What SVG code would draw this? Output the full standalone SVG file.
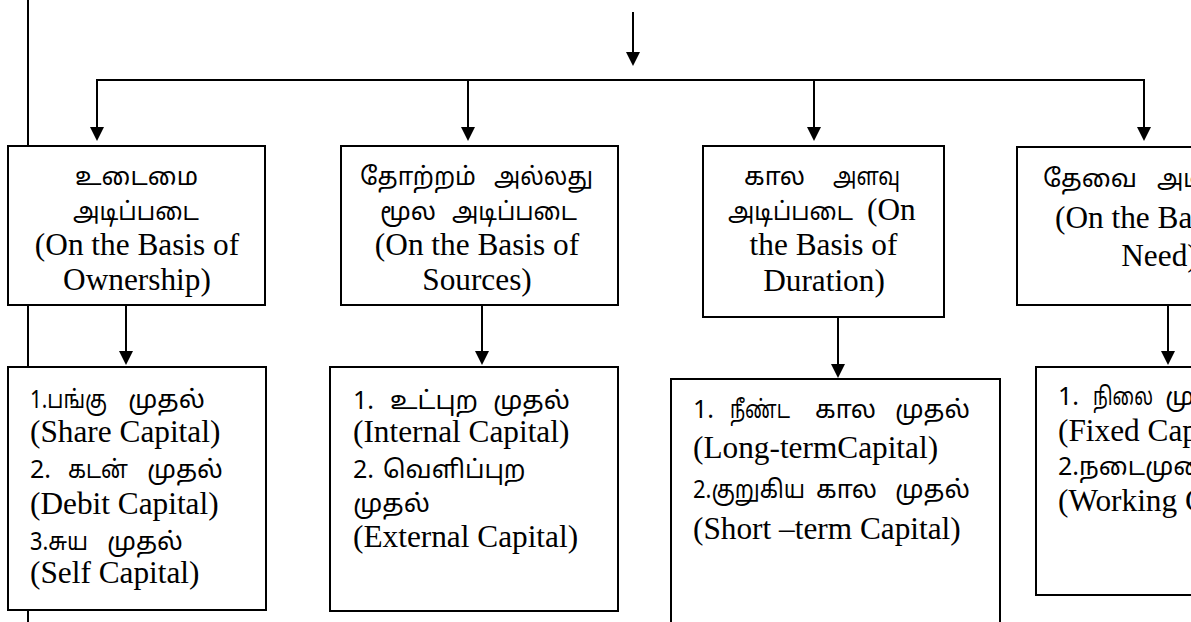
<svg xmlns="http://www.w3.org/2000/svg" width="1191" height="622" viewBox="0 0 1191 622">
<style>
.box{fill:#fff;stroke:#000;stroke-width:2}
.ln{stroke:#000;stroke-width:2;fill:none}
.en{font-family:"Liberation Serif","Times New Roman",serif;font-size:31.3px;fill:#000}
.ta{font-family:"Noto Sans Tamil","Noto Serif Tamil","Lohit Tamil","Latha","Noto Sans",sans-serif;font-size:25px;fill:#000}
.m{text-anchor:middle}
</style>
<defs>
<marker id="ah" markerUnits="userSpaceOnUse" markerWidth="14" markerHeight="14" refX="10" refY="7" orient="auto">
<path d="M0,0 L14,7 L0,14 z" fill="#000"/>
</marker>
</defs>
<g id="connectors">
<line class="ln" x1="28" y1="0" x2="28" y2="622"/>
<line class="ln" x1="633" y1="12" x2="633" y2="62" marker-end="url(#ah)"/>
<polyline class="ln" points="97,80 1144,80"/>
<line class="ln" x1="97" y1="79" x2="97" y2="137" marker-end="url(#ah)"/>
<line class="ln" x1="468" y1="80" x2="468" y2="137" marker-end="url(#ah)"/>
<line class="ln" x1="814" y1="80" x2="814" y2="137" marker-end="url(#ah)"/>
<line class="ln" x1="1144" y1="79" x2="1144" y2="137" marker-end="url(#ah)"/>
<line class="ln" x1="126" y1="305" x2="126" y2="361" marker-end="url(#ah)"/>
<line class="ln" x1="482" y1="305" x2="482" y2="361" marker-end="url(#ah)"/>
<line class="ln" x1="838" y1="317" x2="838" y2="374" marker-end="url(#ah)"/>
<line class="ln" x1="1168" y1="305" x2="1168" y2="361" marker-end="url(#ah)"/>
</g>
<g id="ownership">
<rect class="box" x="8" y="146" width="257" height="159"/>
<text class="ta" x="75" y="185" textLength="123" lengthAdjust="spacingAndGlyphs">உடைமை</text>
<text class="ta" x="73" y="220" textLength="126" lengthAdjust="spacingAndGlyphs">அடிப்படை</text>
<text class="en m" x="137" y="255">(On the Basis of</text>
<text class="en m" x="137" y="290">Ownership)</text>
</g>
<g id="sources">
<rect class="box" x="341" y="146" width="277" height="159"/>
<text class="ta" x="360" y="185" textLength="116" lengthAdjust="spacingAndGlyphs">தோற்றம்</text>
<text class="ta" x="494" y="185" textLength="99" lengthAdjust="spacingAndGlyphs">அல்லது</text>
<text class="ta" x="380" y="220">மூல</text>
<text class="ta" x="452" y="220" textLength="125" lengthAdjust="spacingAndGlyphs">அடிப்படை</text>
<text class="en m" x="477" y="255">(On the Basis of</text>
<text class="en m" x="477" y="290">Sources)</text>
</g>
<g id="duration">
<rect class="box" x="703" y="146" width="241" height="171"/>
<text class="ta" x="744" y="185">கால</text>
<text class="ta" x="833" y="185" textLength="67" lengthAdjust="spacingAndGlyphs">அளவு</text>
<text class="ta" x="728" y="220" textLength="125" lengthAdjust="spacingAndGlyphs">அடிப்படை</text>
<text class="en" x="867" y="220">(On</text>
<text class="en m" x="823.5" y="255">the Basis of</text>
<text class="en m" x="824" y="291">Duration)</text>
</g>
<g id="need">
<rect class="box" x="1017" y="147" width="290" height="158"/>
<text class="ta" x="1043" y="187" textLength="94" lengthAdjust="spacingAndGlyphs">தேவை</text>
<text class="ta" x="1157" y="187" textLength="125" lengthAdjust="spacingAndGlyphs">அடிப்படை</text>
<text class="en" x="1055" y="228">(On the Basis of</text>
<text class="en m" x="1159.5" y="266">Need)</text>
</g>
<g id="ownership-types">
<rect class="box" x="8" y="367" width="258" height="243"/>
<text class="ta" x="30" y="408" textLength="77" lengthAdjust="spacingAndGlyphs">1.பங்கு</text>
<text class="ta" x="128" y="408" textLength="77" lengthAdjust="spacingAndGlyphs">முதல்</text>
<text class="en" x="30" y="442">(Share Capital)</text>
<text class="ta" x="30" y="478">2.</text>
<text class="ta" x="68" y="478" textLength="60" lengthAdjust="spacingAndGlyphs">கடன்</text>
<text class="ta" x="147" y="478" textLength="76" lengthAdjust="spacingAndGlyphs">முதல்</text>
<text class="en" x="30" y="514">(Debit Capital)</text>
<text class="ta" x="30" y="550" textLength="58" lengthAdjust="spacingAndGlyphs">3.சுய</text>
<text class="ta" x="107" y="550" textLength="76" lengthAdjust="spacingAndGlyphs">முதல்</text>
<text class="en" x="30" y="583">(Self Capital)</text>
</g>
<g id="source-types">
<rect class="box" x="330" y="367" width="288" height="244"/>
<text class="ta" x="353" y="409">1.</text>
<text class="ta" x="390" y="409" textLength="88" lengthAdjust="spacingAndGlyphs">உட்புற</text>
<text class="ta" x="493" y="409" textLength="77" lengthAdjust="spacingAndGlyphs">முதல்</text>
<text class="en" x="353" y="442">(Internal Capital)</text>
<text class="ta" x="353" y="478">2.</text>
<text class="ta" x="383" y="478">வெளிப்புற</text>
<text class="ta" x="353" y="512" textLength="77" lengthAdjust="spacingAndGlyphs">முதல்</text>
<text class="en" x="353" y="547">(External Capital)</text>
</g>
<g id="duration-types">
<rect class="box" x="671" y="379" width="329" height="260"/>
<text class="ta" x="693" y="418">1.</text>
<text class="ta" x="730" y="418" textLength="60" lengthAdjust="spacingAndGlyphs">நீண்ட</text>
<text class="ta" x="815" y="418">கால</text>
<text class="ta" x="895" y="418" textLength="75" lengthAdjust="spacingAndGlyphs">முதல்</text>
<text class="en" x="693" y="458">(Long-termCapital)</text>
<text class="ta" x="693" y="498" textLength="112" lengthAdjust="spacingAndGlyphs">2.குறுகிய</text>
<text class="ta" x="816" y="498">கால</text>
<text class="ta" x="895" y="498" textLength="75" lengthAdjust="spacingAndGlyphs">முதல்</text>
<text class="en" x="693" y="539">(Short –term Capital)</text>
</g>
<g id="need-types">
<rect class="box" x="1036" y="367" width="260" height="228"/>
<text class="ta" x="1058" y="405">1.</text>
<text class="ta" x="1093" y="405" textLength="60" lengthAdjust="spacingAndGlyphs">நிலை</text>
<text class="ta" x="1165" y="405" textLength="77" lengthAdjust="spacingAndGlyphs">முதல்</text>
<text class="en" x="1058" y="441">(Fixed Capital)</text>
<text class="ta" x="1058" y="475">2.நடைமுறை முதல்</text>
<text class="en" x="1058" y="511">(Working Capital)</text>
</g>
</svg>
